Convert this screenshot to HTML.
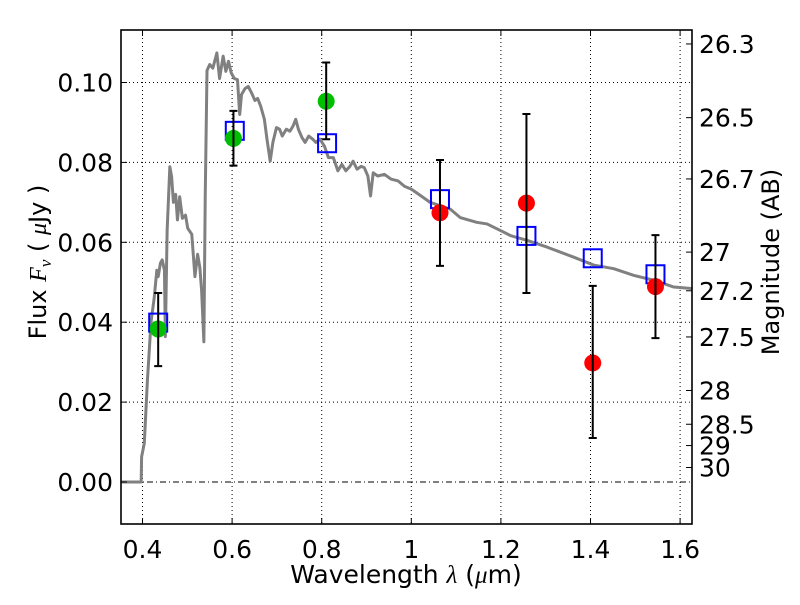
<!DOCTYPE html>
<html><head><meta charset="utf-8"><style>
body{margin:0;background:#fff;}
svg text{font-family:"DejaVu Sans","Liberation Sans",sans-serif;}
</style></head><body>
<svg id="chart" width="800" height="600" viewBox="0 0 800 600" xmlns="http://www.w3.org/2000/svg">
<rect width="800" height="600" fill="#fff"/>
<g id="grid"></g><g id="spec"></g><g id="marks"></g><g id="axes"></g>
</svg>
<script>
const xTicks=[0.4,0.6,0.8,1.0,1.2,1.4,1.6];
const xTickLabels=["0.4","0.6","0.8","1","1.2","1.4","1.6"];
const yTicks=[0,0.02,0.04,0.06,0.08,0.10];
const yTickLabels=["0.00","0.02","0.04","0.06","0.08","0.10"];
const magTicks=[26.3,26.5,26.7,27,27.2,27.5,28,28.5,29,30];
const magLabels=["26.3","26.5","26.7","27","27.2","27.5","28","28.5","29","30"];
const specWave=[0.352,0.397,0.398,0.404,0.411,0.419,0.426,0.432,0.435,0.440,0.444,0.449,0.451,0.455,0.461,0.465,0.469,0.474,0.478,0.483,0.489,0.496,0.501,0.510,0.517,0.523,0.528,0.532,0.537,0.540,0.544,0.550,0.557,0.566,0.572,0.580,0.586,0.592,0.598,0.605,0.612,0.617,0.621,0.629,0.636,0.643,0.651,0.657,0.664,0.672,0.678,0.685,0.691,0.699,0.706,0.712,0.721,0.729,0.736,0.742,0.748,0.756,0.763,0.771,0.780,0.787,0.796,0.806,0.815,0.826,0.836,0.845,0.854,0.863,0.870,0.879,0.888,0.895,0.903,0.909,0.915,0.925,0.940,0.955,0.970,0.985,1.000,1.022,1.042,1.087,1.109,1.146,1.169,1.198,1.221,1.258,1.303,1.362,1.407,1.452,1.497,1.541,1.586,1.628];
const specFlux=[0,0,0.0063,0.0097,0.0255,0.040,0.046,0.053,0.0514,0.0548,0.0556,0.053,0.0364,0.063,0.0789,0.0764,0.070,0.072,0.0656,0.0714,0.066,0.0668,0.0635,0.062,0.0514,0.057,0.0537,0.0478,0.0351,0.0714,0.103,0.1045,0.1036,0.1074,0.101,0.1066,0.1028,0.1053,0.1024,0.101,0.1007,0.092,0.097,0.0985,0.099,0.0975,0.0955,0.096,0.094,0.0908,0.0857,0.0803,0.085,0.0887,0.0883,0.0866,0.0883,0.0878,0.0891,0.0908,0.0883,0.0862,0.085,0.0866,0.0858,0.085,0.0858,0.0841,0.0812,0.0812,0.0779,0.0795,0.0779,0.079,0.0803,0.0783,0.079,0.0787,0.0766,0.0716,0.0774,0.0766,0.077,0.0758,0.0754,0.074,0.0733,0.0716,0.070,0.0683,0.0662,0.065,0.0646,0.063,0.0617,0.0605,0.0588,0.0563,0.0543,0.0534,0.0517,0.0505,0.0488,0.0484];
const modelWave=[0.435,0.606,0.812,1.064,1.257,1.405,1.545];
const modelFlux=[0.0399,0.0879,0.0848,0.0708,0.0616,0.056,0.052];
const obsWave=[0.435,0.603,0.810,1.064,1.257,1.405,1.545];
const obsFlux=[0.0383,0.086,0.0953,0.0674,0.0698,0.0298,0.0489];
const obsErrLo=[0.0093,0.0068,0.0095,0.0133,0.0225,0.0188,0.0129];
const obsErrHi=[0.009,0.0069,0.0097,0.0132,0.0223,0.0193,0.0129];
const obsColor=["#00bf00","#00bf00","#00bf00","#ff0000","#ff0000","#ff0000","#ff0000"];

const L=121,R=692,T=30,B=524;
const X=v=>L+(v-0.352)*448;
const Y=v=>482-v*3995;
const M=m=>Y(Math.pow(10,(23.9-m)/2.5));
const NS="http://www.w3.org/2000/svg";
function mk(parent,tag,attrs){const e=document.createElementNS(NS,tag);for(const k in attrs)e.setAttribute(k,attrs[k]);document.getElementById(parent).appendChild(e);return e;}

xTicks.forEach((t,i)=>{
  const g=mk('grid','line',{x1:X(t),x2:X(t),y1:T,y2:B,stroke:'#000','stroke-width':1,'stroke-dasharray':'1,3'});
  
  
  const tk=mk('axes','line',{x1:X(t),x2:X(t),y1:B,y2:B-6,stroke:'#000'});
  
  
  const tk2=mk('axes','line',{x1:X(t),x2:X(t),y1:T,y2:T+6,stroke:'#000'});
  
  
  const lb=mk('axes','text',{x:X(t),y:B+34,'text-anchor':'middle','font-size':25});
  lb.textContent=xTickLabels[i];
  
  
});
yTicks.forEach((t,i)=>{
  if(t!==0){
    const g=mk('grid','line',{x1:L,x2:R,y1:Y(t),y2:Y(t),stroke:'#000','stroke-width':1,'stroke-dasharray':'1,3'});
    
    
  }
  const tk=mk('axes','line',{x1:L,x2:L+6,y1:Y(t),y2:Y(t),stroke:'#000'});
  
  
  const lb=mk('axes','text',{x:L-8,y:Y(t)+9,'text-anchor':'end','font-size':25});
  lb.textContent=yTickLabels[i];
  
  
});
const zl=mk('grid','line',{x1:L,x2:R,y1:Y(0),y2:Y(0),stroke:'#000','stroke-width':1,'stroke-dasharray':'6,3,1,3'});


magTicks.forEach((m,i)=>{
  const tk=mk('axes','line',{x1:R,x2:R-6,y1:M(m),y2:M(m),stroke:'#000'});
  
  
  const lb=mk('axes','text',{x:R+7,y:M(m)+9,'font-size':25});
  lb.textContent=magLabels[i];
  
  
});

const sp=mk('spec','polyline',{points:specWave.map((w,i)=>X(w)+','+Y(specFlux[i])).join(' '),fill:'none',stroke:'#808080','stroke-width':3,'stroke-linejoin':'round'});



modelWave.forEach((w,i)=>{
  const s=mk('marks','rect',{x:X(w)-9,y:Y(modelFlux[i])-9,width:18,height:18,fill:'none',stroke:'#0000ff','stroke-width':2});
  
  
});
obsWave.forEach((w,i)=>{
  const x=X(w),y1=Y(obsFlux[i]+obsErrHi[i]),y2=Y(obsFlux[i]-obsErrLo[i]);
  const c=mk('marks','circle',{cx:x,cy:Y(obsFlux[i]),r:8.5,fill:obsColor[i]});
  
  
  const e=mk('marks','path',{d:`M${x},${y1}V${y2}M${x-4},${y1}H${x+4}M${x-4},${y2}H${x+4}`,stroke:'#000','stroke-width':2,fill:'none'});
  
  
});

const fr=mk('axes','rect',{x:L,y:T,width:R-L,height:B-T,fill:'none',stroke:'#000','stroke-width':1.6});


const xl=mk('axes','text',{x:406,y:583,'text-anchor':'middle','font-size':25});
xl.innerHTML='Wavelength  <tspan font-style="italic" font-family="Liberation Serif, serif">λ</tspan> (<tspan font-style="italic" font-family="Liberation Serif, serif">μ</tspan>m)';


const yl=mk('axes','text',{x:0,y:0,'text-anchor':'middle','font-size':24,transform:'translate(46,262) rotate(-90)'});
yl.innerHTML='Flux  <tspan font-style="italic" font-family="Liberation Serif, serif">F<tspan font-size="17" dy="5">ν</tspan></tspan><tspan dy="-5">  ( </tspan><tspan font-style="italic" font-family="Liberation Serif, serif">μ</tspan>Jy )';


const rl=mk('axes','text',{x:0,y:0,'text-anchor':'middle','font-size':24,transform:'translate(779,262) rotate(-90)'});
rl.textContent='Magnitude (AB)';


</script>
</body></html>
